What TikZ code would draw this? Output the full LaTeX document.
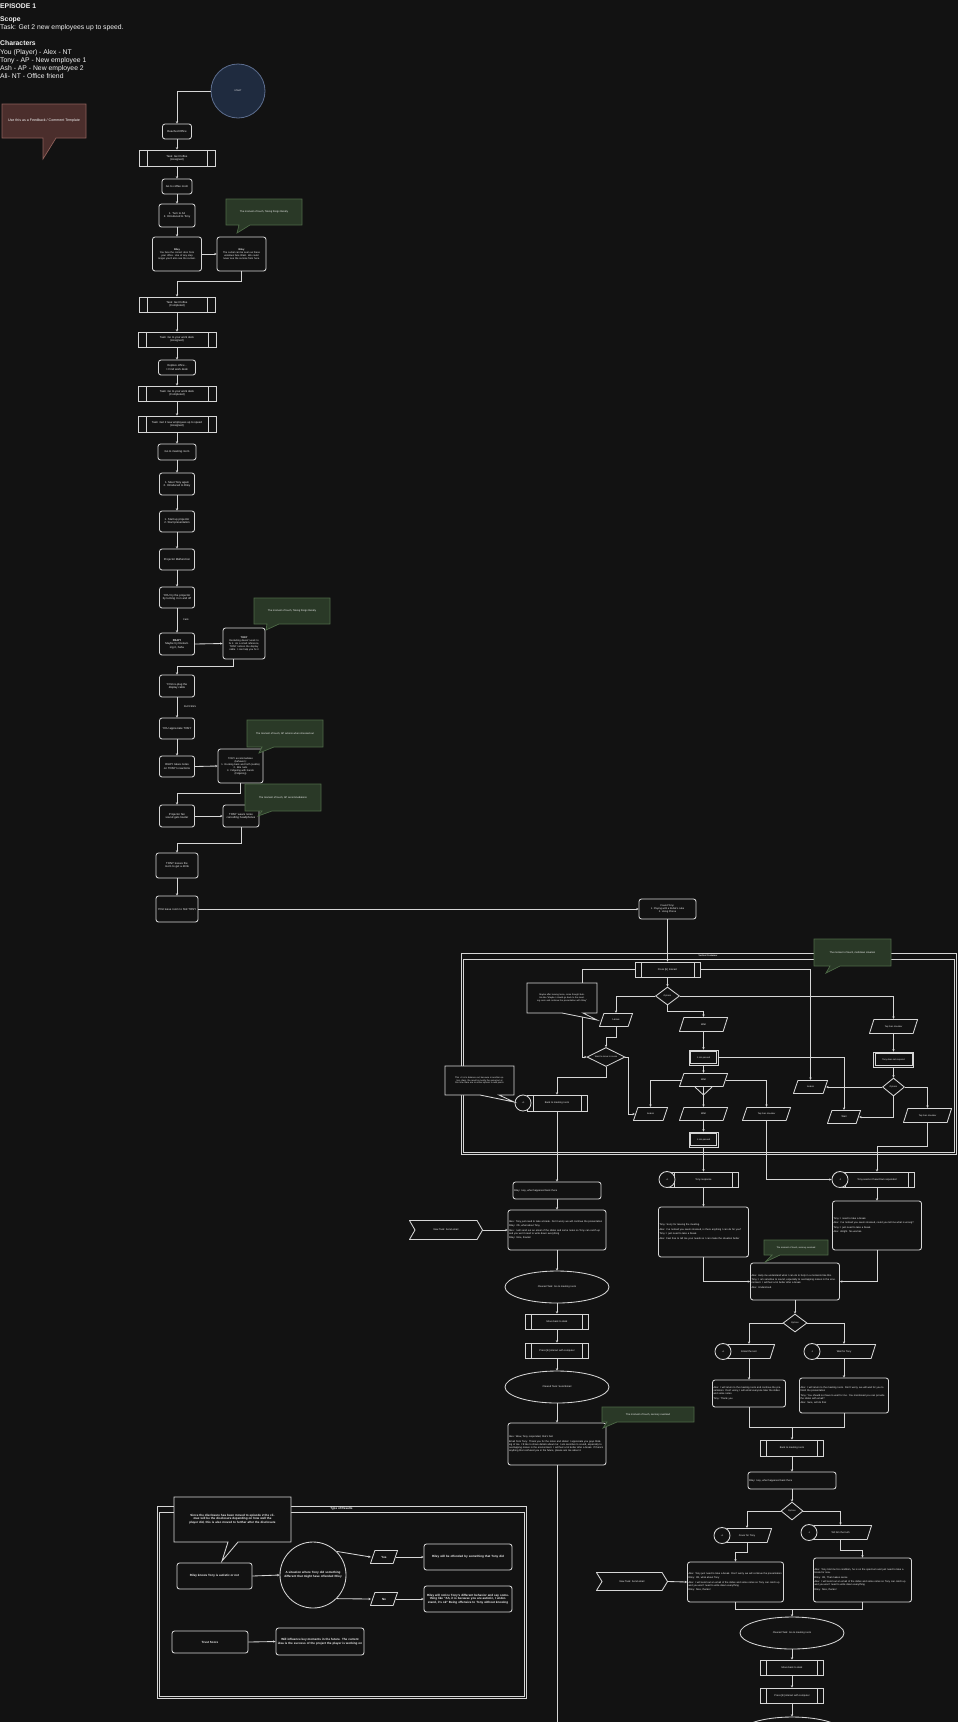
\documentclass[tikz,border=0pt]{standalone}
\usepackage{fontspec}
\setmainfont{Liberation Sans}
\usetikzlibrary{shapes.geometric,arrows.meta}
\definecolor{bg}{HTML}{121212}
\definecolor{lc}{HTML}{D6D6D6}
\definecolor{txt}{HTML}{F2F2F2}
\definecolor{gfill}{HTML}{2A3927}
\definecolor{gline}{HTML}{4E6A47}
\definecolor{rfill}{HTML}{4B2E2C}
\definecolor{rline}{HTML}{8E605A}
\definecolor{bfill}{HTML}{1F2B3F}
\definecolor{bline}{HTML}{5C6D8E}
\newcommand\szT{\fontsize{2.2}{2.7}\selectfont}
\newcommand\szA{\fontsize{2.5}{3.0}\selectfont}
\newcommand\szB{\fontsize{2.8}{3.4}\selectfont}
\newcommand\szR{\fontsize{3.0}{3.6}\selectfont}
\newcommand\szF{\fontsize{3.6}{4.3}\selectfont}
\newcommand\szH{\fontsize{6.8}{8.2}\selectfont}
\begin{document}
\begin{tikzpicture}[x=1pt,y=-1pt,
  base/.style={draw=lc, line width=0.85pt, fill=bg, text=txt, inner sep=1pt, align=center},
  rbox/.style={base, rounded corners=2.5pt},
  proc/.style={base, path picture={\draw[lc, line width=0.7pt]
      ([xshift=#1]path picture bounding box.north west) -- ([xshift=#1]path picture bounding box.south west)
      ([xshift=-#1]path picture bounding box.north east) -- ([xshift=-#1]path picture bounding box.south east);}},
  proc/.default=7pt,
  dbl/.style={base, inner sep=0.5pt, path picture={\draw[lc, line width=0.6pt]
      ([xshift=1.6pt,yshift=-1.6pt]path picture bounding box.north west) rectangle
      ([xshift=-1.6pt,yshift=1.6pt]path picture bounding box.south east);}},
  para/.style={fill=bg, text=txt, inner sep=0.5pt, align=center, path picture={\draw[lc, line width=0.85pt, fill=bg]
      ([xshift=0.45pt,yshift=0.45pt]path picture bounding box.south west) --
      ([xshift=-4.9pt,yshift=0.45pt]path picture bounding box.south east) --
      ([xshift=-0.45pt,yshift=-0.45pt]path picture bounding box.north east) --
      ([xshift=4.9pt,yshift=-0.45pt]path picture bounding box.north west) -- cycle;}},
  flagshape/.style={fill=bg, text=txt, inner sep=0.5pt, align=center, path picture={\draw[lc, line width=0.85pt]
      ([xshift=0.45pt,yshift=-0.45pt]path picture bounding box.north west) --
      ([xshift=-6pt,yshift=-0.45pt]path picture bounding box.north east) --
      ([xshift=-0.45pt]path picture bounding box.east) --
      ([xshift=-6pt,yshift=0.45pt]path picture bounding box.south east) --
      ([xshift=0.45pt,yshift=0.45pt]path picture bounding box.south west) --
      ([xshift=6pt]path picture bounding box.west) -- cycle;}},
  dia/.style={base, diamond, inner sep=0},
  ell/.style={base, ellipse, inner sep=0},
  circ/.style={base, circle, inner sep=0, minimum size=16, font=\szT},
  conn/.style={draw=lc, line width=0.85pt, -{Stealth[length=2.4pt,width=2.3pt]}},
  plain/.style={draw=lc, line width=0.85pt},
  gnote/.style={fill=gfill, draw=gline, line width=0.7pt},
  dnote/.style={fill=bg, draw=lc, line width=0.85pt},
  lbl/.style={text=txt, inner sep=0, align=center},
  dlg/.style={rbox, font=\szA, align=left}
]
\fill[bg] (0,0) rectangle (958,1722);
\useasboundingbox (0,0) rectangle (958,1722);

% ---------- header ----------
\node[lbl, anchor=base west, font=\szH\bfseries] (h1) at (0,8.4) {EPISODE 1};
\node[lbl, anchor=base west, font=\szH\bfseries] (h2) at (0,21.7) {Scope};
\node[lbl, anchor=base west, font=\szH] (h3) at (0,29.7) {Task: Get 2 new employees up to speed.};
\node[lbl, anchor=base west, font=\szH\bfseries] (h4) at (0,45.7) {Characters};
\node[lbl, anchor=base west, font=\szH] (h5) at (0,54.1) {You (Player) - Alex - NT};
\node[lbl, anchor=base west, font=\szH] (h6) at (0,62.3) {Tony - AP - New employee 1};
\node[lbl, anchor=base west, font=\szH] (h7) at (0,70.6) {Ash - AP - New employee 2};
\node[lbl, anchor=base west, font=\szH] (h8) at (0,78.9) {Ali- NT - Office friend};

% feedback callout
\draw[fill=rfill, draw=rline, line width=0.7pt] (2,104) -- (86,104) -- (86,138) -- (56,138) -- (43,159) -- (43,138) -- (2,138) -- cycle;
\node[lbl, font=\szF] (fb) at (44,121) {Use this as a Feedback / Comment Template};

% ---------- containers ----------
\draw[plain] (461,953) rectangle (956,1154);
\draw[plain] (463,959) rectangle (954,1152);
\node[lbl, font=\szT\bfseries] (vctitle) at (708,956) {Vertical Container};

\draw[plain] (157,1506) rectangle (526,1698);
\draw[plain] (159,1512) rectangle (524,1696);
\node[lbl, font=\szR\bfseries] (trtitle) at (341.5,1509) {Type of Results};

% ---------- upper chain ----------
\node[circle, draw=bline, fill=bfill, line width=0.8pt, minimum size=54, inner sep=0, text=txt, font=\szT] (start) at (238,91) {START};
\node[rbox, font=\szB, minimum width=29, minimum height=15] (reached) at (177,131.5) {Reached Office};
\node[proc=8pt, font=\szB, minimum width=76, minimum height=16] (coffeeA) at (177,158) {Task: Get Coffee\\(Assigned)};
\node[rbox, font=\szB, minimum width=30, minimum height=15] (gocoffee) at (177,186.5) {Go to coffee room};
\node[rbox, font=\szB, minimum width=36, minimum height=23] (turnali) at (177,215.5) {1. Turn to Ali\\2. Introduced to Tony};
\node[rbox, font=\szA, text width=47, minimum height=34] (riley1) at (177,254) {\textbf{Riley}\\You face the correct door from your office. Use of any step longer you'd also see the curtain.};
\node[rbox, font=\szA, text width=47, minimum height=34] (riley2) at (241.5,254) {\textbf{Riley}\\The curtail can be seen as these windows face West. We could never see the sunrise from here.};
\node[proc=8pt, font=\szB, minimum width=76, minimum height=15] (coffeeC) at (177,304.5) {Task: Get Coffee\\(Completed)};
\node[proc=8pt, font=\szB, minimum width=78, minimum height=15] (deskA) at (177,339.5) {Task: Go to your work desk\\(Assigned)};
\node[rbox, font=\szB, text width=35, minimum height=15] (explore) at (177,367.5) {Explore office -> Find work desk};
\node[proc=8pt, font=\szB, minimum width=78, minimum height=15] (deskC) at (177,393.5) {Task: Go to your work desk\\(Completed)};
\node[proc=8pt, font=\szB, minimum width=78, minimum height=16] (speedA) at (177,424) {Task: Get 2 new employees up to speed\\(Assigned)};
\node[rbox, font=\szB, minimum width=38, minimum height=16] (gomeet) at (177,452) {Go to meeting room};
\node[rbox, font=\szB, minimum width=35, minimum height=22] (meettony) at (177,484) {1. Meet Tony again\\2. Introduced to Riley};
\node[rbox, font=\szB, minimum width=35, minimum height=21] (startup) at (177,521.5) {1. Start up projector\\2. Start presentation};
\node[rbox, font=\szB, minimum width=35, minimum height=21] (malf) at (177,559.5) {Projector Malfunction};
\node[rbox, font=\szB, text width=33, minimum height=21] (tryproj) at (177,597.5) {YOU try the projector by turning it on and off};
\node[lbl, font=\szA] (fails) at (186,620) {Fails};
\node[rbox, font=\szB, text width=33, minimum height=22] (rileyr) at (177,644) {\textbf{RILEY}\\Maybe try Restarting it, haha};
\node[rbox, font=\szA, text width=40, minimum height=31] (tonyr) at (244,643.5) {\textbf{TONY}\\Restarting doesn't work to fix it. As a small reference, TONY notices the display cable. I can help you fix it};
\node[rbox, font=\szB, text width=33, minimum height=22] (replug) at (177,686) {YOU re-plug the display cable};
\node[lbl, font=\szA] (success) at (190,707) {SUCCESS};
\node[rbox, font=\szB, text width=33, minimum height=21] (appr) at (177,728.5) {YOU appreciate TONY};
\node[rbox, font=\szB, text width=33, minimum height=21] (notes) at (177,766.5) {RILEY takes notes on TONY's reactions};
\node[rbox, font=\szA, text width=43, minimum height=34] (accom) at (240.5,766) {TONY accommodates\\(behavior):\\1. Rocking back and forth (subtle)\\2. Bite nails\\3. Fidgeting with hands\\(Fidgeting)};
\node[rbox, font=\szB, text width=33, minimum height=22] (fan) at (177,816) {Projector fan sound gets louder};
\node[rbox, font=\szB, text width=34, minimum height=22] (headph) at (241,816) {TONY wears noise cancelling headphones};
\node[rbox, font=\szB, text width=40, minimum height=25] (leaves) at (177,865.5) {TONY leaves the room to get a drink};
\node[rbox, font=\szB, text width=40, minimum height=26] (leavefind) at (177,909) {YOU leave room to find TONY};
\node[rbox, font=\szA, minimum width=57, minimum height=20] (found) at (667.5,909) {Found Tony:\\1. Playing with a Rubik's cube\\2. Using Phone};

% ---------- vertical container ----------
\node[proc=6pt, font=\szA, minimum width=65, minimum height=15] (presse) at (667.5,969.5) {Press [E] Interact};
\node[dia, font=\szT, minimum width=24, minimum height=18] (opt1) at (667.5,996) {Options};
\node[para, font=\szA, minimum width=34, minimum height=14] (leave1) at (616,1020) {Leave};
\node[para, font=\szA, minimum width=49, minimum height=15] (wait1) at (703.5,1024.5) {Wait};
\node[para, font=\szT, minimum width=49, minimum height=15] (tap1) at (893.5,1026.5) {Tap their shoulder};
\node[dbl, font=\szT, minimum width=29, minimum height=15] (min1) at (703.5,1057.5) {1 min passed};
\node[dbl, font=\szT, minimum width=40, minimum height=15] (noresp) at (893.5,1059.5) {Tony does not respond};
\node[dia, font=\szT, minimum width=22, minimum height=18] (opt2) at (893.5,1087) {Options};
\node[para, font=\szA, minimum width=35, minimum height=14] (leave2) at (810.5,1087) {Leave};
\node[para, font=\szA, minimum width=34, minimum height=14] (wait3) at (844,1117) {Wait};
\node[para, font=\szT, minimum width=49, minimum height=15] (tap3) at (927.5,1115.5) {Tap their shoulder};
\node[para, font=\szA, minimum width=49, minimum height=14] (wait2) at (703.5,1080) {Wait};
\node[para, font=\szA, minimum width=35, minimum height=14] (leave4) at (650.5,1114) {Leave};
\node[para, font=\szA, minimum width=49, minimum height=14] (wait4) at (703.5,1114) {Wait};
\node[para, font=\szT, minimum width=49, minimum height=14] (tap2) at (766.5,1114) {Tap their shoulder};
\node[dbl, font=\szT, minimum width=29, minimum height=15] (min2) at (703.5,1139.5) {1 min passed};
\node[dia, minimum width=38, minimum height=19] (wantmove) at (606,1057) {};
\node[lbl, font=\szT] (wanttxt) at (606,1057) {Want to move to scene};
\node[proc=6pt, font=\szA, minimum width=60, minimum height=16] (back1) at (557,1103) {Back to meeting room};
\node[circ] (c0) at (523,1103) {+0};
\coordinate (j1) at (582,1057);
\coordinate (j2) at (628,1057);

% ---------- right branch ----------
\node[proc=6pt, font=\szA, minimum width=70, minimum height=15] (tonyresp) at (703.5,1179.5) {Tony response};
\node[circ] (cp1) at (667,1179.5) {+1};
\node[proc=6pt, font=\szA, minimum width=75, minimum height=15] (tonyseems) at (877,1179.5) {Tony seems it heard but responded};
\node[circ] (cm2) at (840,1179.5) {-2};
\node[dlg, text width=88, minimum height=50] (dlgl) at (703.5,1232) {Tony: Sorry for leaving the meeting.\\[1.5pt]Alex: I've noticed you seem stressed, is there anything I can do for you?\\[1.5pt]Tony: I just need to take a break.\\[1.5pt]Alex: Feel free to tell me your needs so I can make the situation better};
\node[dlg, text width=87, minimum height=49] (dlgr) at (877,1225.5) {Tony: I need to take a break.\\[1.5pt]Alex: I've noticed you seem stressed, could you tell me what is wrong?\\[1.5pt]Tony: I just need to take a break.\\[1.5pt]Alex: Alright. No worries.};
\node[dlg, text width=87, minimum height=37] (dlgm) at (795,1281.5) {Alex: Help me understand what I can do to help in a moments like this.\\[1.5pt]Tony: I am sensitive to sound, especially to overlapping noises in the environment. I will feel a lot better after a break.\\[1.5pt]Alex: Understood.};
\node[dia, font=\szT, minimum width=24, minimum height=18] (opt3) at (795,1323) {Options};
\node[para, font=\szA, minimum width=52, minimum height=15] (emailrest) at (749,1351.5) {Email the rest};
\node[circ] (cp2) at (723,1351.5) {+1};
\node[para, font=\szA, minimum width=64, minimum height=15] (waittony) at (844,1351.5) {Wait for Tony};
\node[circ] (cm1) at (812,1351.5) {-1};
\node[dlg, text width=71, minimum height=27] (dlge) at (749,1393.5) {Alex: I will return to the meeting room and continue the presentation. Don't worry, I will email everyone later the slides and some notes.\\[1.5pt]Tony: Thank you};
\node[dlg, text width=87, minimum height=35] (dlgw) at (844,1395.5) {Alex: I will return to the meeting room. Don't worry, we will wait for you to finish the presentation\\[1.5pt]Tony: You should not have to wait for me. You mentioned you can provide the slides with email?\\[1.5pt]Alex: Sure, will do that};
\coordinate (m1) at (792,1427);
\node[proc=6pt, font=\szA, minimum width=63, minimum height=16] (backmeet2) at (792,1448) {Back to meeting room};
\node[dlg, text width=86, minimum height=17] (rileyhey2) at (792,1480.5) {Riley: Hey, what happened back there};
\node[dia, font=\szT, minimum width=22, minimum height=18] (opt4) at (792,1511) {Options};
\node[para, font=\szA, minimum width=50, minimum height=15] (cover) at (747,1535.5) {Cover for Tony};
\node[circ] (cp3) at (722,1535.5) {+1};
\node[para, font=\szA, minimum width=63, minimum height=15] (truth) at (840.5,1532.5) {Tell him the truth};
\node[circ] (cm3) at (809,1532.5) {-1};
\node[dlg, text width=94, minimum height=40] (dlgc) at (735.5,1582) {Alex: Tony just need to take a break. Don't worry we will continue the presentation\\[1.5pt]Riley: Oh, what about Tony\\[1.5pt]Alex: I will send out an email of the slides and some notes so Tony can catch up and you won't need to write down everything\\[1.5pt]Riley: Nice, thanks!};
\node[dlg, text width=96, minimum height=44] (dlgt) at (862.5,1580) {Alex: Tony told me his condition, he is on the spectrum and just need to take a break for now.\\[1.5pt]Riley: Oh, That makes sense\\[1.5pt]Alex: I will send out an email of the slides and some notes so Tony can catch up and you won't need to write down everything\\[1.5pt]Riley: Nice, thanks!};
\node[flagshape, font=\szA, minimum width=72, minimum height=19] (flag2) at (632,1581.5) {New Task: Send email};
\coordinate (m2) at (792,1609);
\node[ell, font=\szA, minimum width=104, minimum height=32] (cleared2) at (792,1633) {Cleared Task: Go to meeting room};
\node[proc=6pt, font=\szA, minimum width=63, minimum height=15] (move2) at (792,1667.5) {Move back to desk};
\node[proc=6pt, font=\szA, minimum width=63, minimum height=15] (pressc2) at (792,1695.5) {Press [E] interact with computer};
\node[ell, minimum width=104, minimum height=32] (ell3) at (792,1733) {};

% ---------- left branch ----------
\node[dlg, text width=86, minimum height=17] (rileyhey1) at (557,1190.5) {Riley: Hey, what happened back there};
\node[dlg, text width=96, minimum height=40] (dlgc1) at (557,1230) {Alex: Tony just need to take a break. Don't worry we will continue the presentation\\[1.5pt]Riley: Oh, what about Tony\\[1.5pt]Alex: I will send out an email of the slides and some notes so Tony can catch up and you won't need to write down everything\\[1.5pt]Riley: Nice, thanks!};
\node[flagshape, font=\szA, minimum width=74, minimum height=20] (flag1) at (446,1230) {New Task: Send email};
\node[ell, font=\szA, minimum width=104, minimum height=32] (cleared1) at (557,1287) {Cleared Task: Go to meeting room};
\node[proc=6pt, font=\szA, minimum width=63, minimum height=15] (move1) at (557,1321.5) {Move back to desk};
\node[proc=6pt, font=\szA, minimum width=63, minimum height=15] (pressc1) at (557,1350.5) {Press [E] interact with computer};
\node[ell, font=\szA, minimum width=104, minimum height=32] (cleared3) at (557,1387) {Cleared Task: Send Email};
\node[dlg, text width=96, minimum height=42] (dlgwow) at (557,1444) {Alex: Wow, Tony responded, that's fast\\[1.5pt]Email from Tony: Thank you for the notes and slides! I appreciate you guys thinking of me. I'd like to share details about me: I am sensitive to sound, especially to overlapping noises in the environment. I will feel a lot better after a break. If there's anything that confused you in the future, please ask me about it.};
\coordinate (bot) at (557,1722);

% ---------- type of results ----------
\node[rbox, font=\szR\bfseries, minimum width=75, minimum height=26] (rknows) at (214.5,1576) {Riley knows Tony is autistic or not};
\node[base, circle, minimum size=66, inner sep=0] (sit) at (313,1575) {};
\node[lbl, font=\szR\bfseries, text width=66] (sittxt) at (313,1575) {A situation where Tony did something different that might have offended Riley};
\node[para, font=\szR\bfseries, minimum width=28, minimum height=14] (yes) at (384,1557) {Yes};
\node[para, font=\szR\bfseries, minimum width=28, minimum height=14] (no) at (384,1599) {No};
\node[rbox, font=\szR\bfseries, text width=86, minimum height=26] (offend) at (468,1557) {Riley will be offended by something that Tony did};
\node[rbox, font=\szR\bfseries, text width=86, minimum height=26] (notice) at (468,1599) {Riley will notice Tony's different behavior and say something like "Ah, it is because you are autistic, I understand, it's ok" Being offensive to Tony without knowing};
\node[rbox, font=\szR\bfseries, minimum width=76, minimum height=22] (trust) at (210,1642) {Trust Score};
\node[rbox, font=\szR\bfseries, text width=86, minimum height=27] (influ) at (320,1641.5) {Will influence key moments in the future. The current idea is the success of the project the player is working on};

% ---------- connectors: upper chain ----------
\draw[conn] (start.west) -| (reached.north);
\foreach \a/\b in {reached/coffeeA, coffeeA/gocoffee, gocoffee/turnali, turnali/riley1, coffeeC/deskA, deskA/explore, explore/deskC, deskC/speedA, speedA/gomeet, gomeet/meettony, meettony/startup, startup/malf, malf/tryproj, tryproj/rileyr, replug/appr, appr/notes, leaves/leavefind}
  \draw[conn] (\a.south) -- (\b.north);
\draw[conn] (riley1.east) -- (riley2.west);
\draw[conn] (rileyr.east) -- (tonyr.west);
\draw[conn] (notes.east) -- (accom.west);
\draw[conn] (fan.east) -- (headph.west);
\draw[conn] (riley2.south) -- ++(0,10) -| (coffeeC.north);
\draw[conn] ([xshift=-11pt]tonyr.south) -- ++(0,7) -| (replug.north);
\draw[conn] (accom.south) -- ++(0,10) -| (fan.north);
\draw[conn] (headph.south) -- ++(0,16) -| (leaves.north);
\draw[conn] (leavefind.east) -- (found.west);
\draw[conn] (found.south) -- (presse.north);

% ---------- connectors: container ----------
\draw[conn] (presse.south) -- (opt1.north);
\draw[conn] (opt1.west) -| (leave1.north);
\draw[conn] (opt1.south) -- ++(0,6) -| (wait1.north);
\draw[conn] (opt1.east) -| (tap1.north);
\draw[conn] (tap1.south) -- (noresp.north);
\draw[conn] (noresp.south) -- (opt2.north);
\draw[conn] (opt2.west) -- ([xshift=-2pt]leave2.east);
\draw[conn] (presse.east) -| (leave2.north);
\draw[conn] (opt2.south) |- ([xshift=-2pt]wait3.east);
\draw[conn] (opt2.east) -| (tap3.north);
\draw[conn] (tap3.south) -- ++(0,23) -| (tonyseems.north);
\draw[conn] (wait1.south) -- (min1.north);
\draw[conn] (min1.east) -| (wait3.north);
\draw[conn] (min1.south) -- (wait2.north);
\draw[conn] ([xshift=2pt]wait2.west) -| (leave4.north);
\draw[conn] ([xshift=-2pt]wait2.east) -| (tap2.north);
\draw[conn] (wait2.south) -- (wait4.north);
\draw[plain] (695,1087) -- (703.5,1095) -- (712,1087);
\draw[conn] (wait4.south) -- (min2.north);
\draw[conn] (min2.south) -- (tonyresp.north);
\draw[conn] (tap2.south) |- (cm2.west);
\draw[conn] (presse.west) -| (j1) -- (wantmove.west);
\draw[conn] (leave1.south) -- ++(0,10) -| (wantmove.north);
\draw[conn] (wantmove.south) -- ++(0,10) -| (back1.north);
\draw[conn] (wantmove.east) -- (j2) |- ([xshift=2pt]leave4.west);
\draw[conn] (back1.south) -- (rileyhey1.north);

% ---------- connectors: right ----------
\draw[conn] (tonyresp.south) -- (dlgl.north);
\draw[conn] (tonyseems.south) -- (dlgr.north);
\draw[conn] (dlgl.south) |- (dlgm.west);
\draw[conn] (dlgr.south) |- (dlgm.east);
\draw[conn] (dlgm.south) -- (opt3.north);
\draw[conn] (opt3.west) -| (emailrest.north);
\draw[conn] (opt3.east) -| (waittony.north);
\draw[conn] (emailrest.south) -- (dlge.north);
\draw[conn] (waittony.south) -- (dlgw.north);
\draw[plain] (dlge.south) |- (m1);
\draw[plain] (dlgw.south) |- (m1);
\draw[conn] (m1) -- (backmeet2.north);
\draw[conn] (backmeet2.south) -- (rileyhey2.north);
\draw[conn] (rileyhey2.south) -- (opt4.north);
\draw[conn] (opt4.west) -| (cover.north);
\draw[conn] (opt4.east) -| (truth.north);
\draw[conn] (cover.south) -- ++(0,9) -| (dlgc.north);
\draw[conn] (truth.south) -- ++(0,10) -| (dlgt.north);
\draw[conn] (flag2.east) -- (dlgc.west);
\draw[plain] (dlgc.south) |- (m2);
\draw[plain] (dlgt.south) |- (m2);
\draw[conn] (m2) -- (cleared2.north);
\draw[conn] (cleared2.south) -- (move2.north);
\draw[conn] (move2.south) -- (pressc2.north);
\draw[conn] (pressc2.south) -- (ell3.north);

% ---------- connectors: left ----------
\draw[conn] (rileyhey1.south) -- (dlgc1.north);
\draw[conn] (flag1.east) -- (dlgc1.west);
\draw[conn] (dlgc1.south) -- (cleared1.north);
\draw[conn] (cleared1.south) -- (move1.north);
\draw[conn] (move1.south) -- (pressc1.north);
\draw[conn] (pressc1.south) -- (cleared3.north);
\draw[conn] (cleared3.south) -- (dlgwow.north);
\draw[plain] (dlgwow.south) -- (bot);

% ---------- connectors: results ----------
\draw[conn] (rknows.east) -- (sit.west);
\draw[conn] (sit.45) -- ([xshift=1pt]yes.west);
\draw[conn] (sit.-45) -- ([xshift=1pt]no.west);
\draw[conn] ([xshift=-2pt]yes.east) -- (offend.west);
\draw[conn] ([xshift=-2pt]no.east) -- (notice.west);
\draw[conn] (trust.east) -- (influ.west);

% ---------- callouts ----------
\draw[gnote] (226,199) -- (302,199) -- (302,225) -- (250,225) -- (237,233) -- (239,225) -- (226,225) -- cycle;
\node[lbl, font=\szA] (g1) at (264,212) {The moment of touch, Taking things literally};
\draw[gnote] (254,598) -- (330,598) -- (330,624) -- (279,624) -- (266,630) -- (267,624) -- (254,624) -- cycle;
\node[lbl, font=\szA] (g2) at (292,611) {The moment of touch, Taking things literally};
\draw[gnote] (247,720) -- (323,720) -- (323,747) -- (274,747) -- (259,753) -- (262,747) -- (247,747) -- cycle;
\node[lbl, font=\szA] (g3) at (285,733.5) {The moment of touch, AP actions when stressed out};
\draw[gnote] (245,784) -- (321,784) -- (321,811) -- (272,811) -- (258,816) -- (262,811) -- (245,811) -- cycle;
\node[lbl, font=\szA] (g4) at (283,797.5) {The moment of touch, AP accommodations};
\draw[gnote] (814,939) -- (891,939) -- (891,966) -- (840,966) -- (826,973) -- (830,966) -- (814,966) -- cycle;
\node[lbl, font=\szA] (g5) at (852.5,952.5) {The moment of touch, meltdown situation};
\draw[gnote] (764,1240) -- (828,1240) -- (828,1255) -- (780,1255) -- (765,1262) -- (772,1255) -- (764,1255) -- cycle;
\node[lbl, font=\szT] (g6) at (796,1247.5) {The moment of touch, sensory overload};
\draw[gnote] (602,1407) -- (694,1407) -- (694,1422) -- (617,1422) -- (603,1428) -- (607,1422) -- (602,1422) -- cycle;
\node[lbl, font=\szA] (g7) at (648,1414.5) {The moment of touch, sensory overload};

\draw[dnote] (527,983) -- (597,983) -- (597,1013) -- (583,1013) -- (597,1020) -- (562,1013) -- (527,1013) -- cycle;
\node[lbl, font=\szT, text width=66] (n1) at (562,998) {Maybe after leaving twice, some thought bubble like "Maybe I should go back to the meeting room and continue the presentation with Riley"};
\draw[dnote] (445,1066) -- (514,1066) -- (514,1095) -- (499,1095) -- (514,1102) -- (480,1095) -- (445,1095) -- cycle;
\node[lbl, font=\szT, text width=65] (n2) at (479.5,1080.5) {This +0 is to balance out, because in another option chain, the result is mostly the same but at this time there are no other options to add points};
\draw[dnote] (174,1497) -- (291,1497) -- (291,1542) -- (238,1542) -- (222,1561) -- (228,1542) -- (174,1542) -- cycle;
\node[lbl, font=\szR\bfseries, text width=113] (n3) at (232.5,1519) {Since the disclosure has been moved to episode 2 the climax will be the disclosure depending on how well the player did, this is also moved to further after the disclosure};
\end{tikzpicture}
\end{document}
